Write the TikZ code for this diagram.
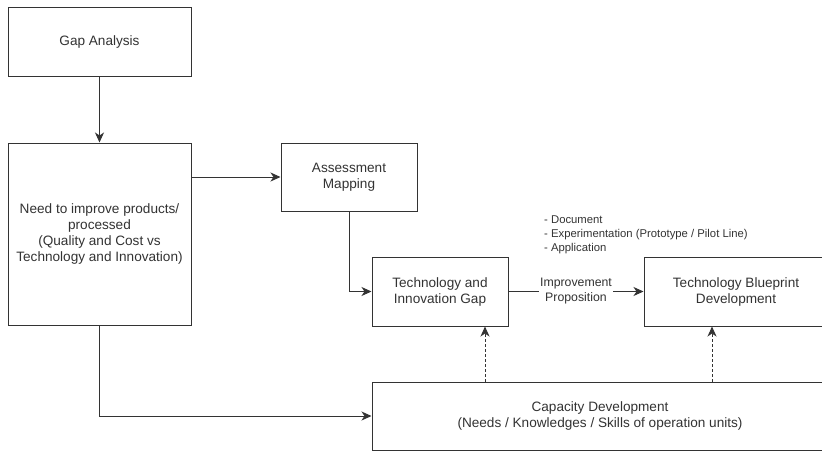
\documentclass[tikz,border=0pt]{standalone}
\usepackage{fontspec}
\setmainfont{Liberation Sans}
\usetikzlibrary{arrows.meta,calc}
\definecolor{ink}{HTML}{333333}
\tikzset{
  box/.style={draw=ink, line width=1pt, fill=white, text=ink, align=center,
    inner sep=2pt, font=\fontsize{13.6}{16}\selectfont},
  link/.style={draw=ink, line width=1pt, -{Stealth[length=10pt,width=9pt,inset=3pt]}},
  hint/.style={link, dash pattern=on 2.5pt off 2.5pt}
}
\begin{document}
\begin{tikzpicture}[x=1pt,y=-1pt]
\useasboundingbox (0,0) rectangle (822,451);
\clip (0,0) rectangle (822,451);

% boxes
\node[box, minimum width=183pt, minimum height=69pt] (gap) at (99.5,41.5) {Gap Analysis};
\node[box, minimum width=183pt, minimum height=182pt] (need) at (99.5,234)
  {Need to improve products/\\processed\\(Quality and Cost vs\\Technology and Innovation)};
\node[box, minimum width=136pt, minimum height=68pt] (assess) at (349,177) {Assessment\\Mapping};
\node[box, minimum width=136pt, minimum height=69pt] (tgap) at (440,291.5) {Technology and\\Innovation Gap};
\node[box, minimum width=184pt, minimum height=69pt] (blue) at (736,291.5) {Technology Blueprint\\Development};
\node[box, minimum width=456pt, minimum height=68pt] (cap) at (600,416)
  {Capacity Development\\(Needs / Knowledges / Skills of operation units)};

% outputs of the blueprint stage
\node[anchor=west, align=left, text=ink, inner sep=0pt, font=\fontsize{11.3}{14}\selectfont] (list) at (544,235)
  {- Document\\- Experimentation (Prototype / Pilot Line)\\- Application};

% connectors
\draw[link] (gap.south) -- (need.north);
\draw[link] (need.east |- assess.west) -- (assess.west);
\draw[link] (assess.south) |- (tgap.west);
\draw[link] (need.south) |- (cap.west);
\draw[link] (tgap.east) -- node[fill=white, text=ink, align=center, inner sep=1pt,
  font=\fontsize{12.3}{15}\selectfont] (prop) {Improvement\\Proposition} (blue.west);

\coordinate (d1) at (485,0);
\coordinate (d2) at (712,0);
\draw[hint] (cap.north -| d1) -- (tgap.south -| d1);
\draw[hint] (cap.north -| d2) -- (blue.south -| d2);
\end{tikzpicture}
\end{document}
